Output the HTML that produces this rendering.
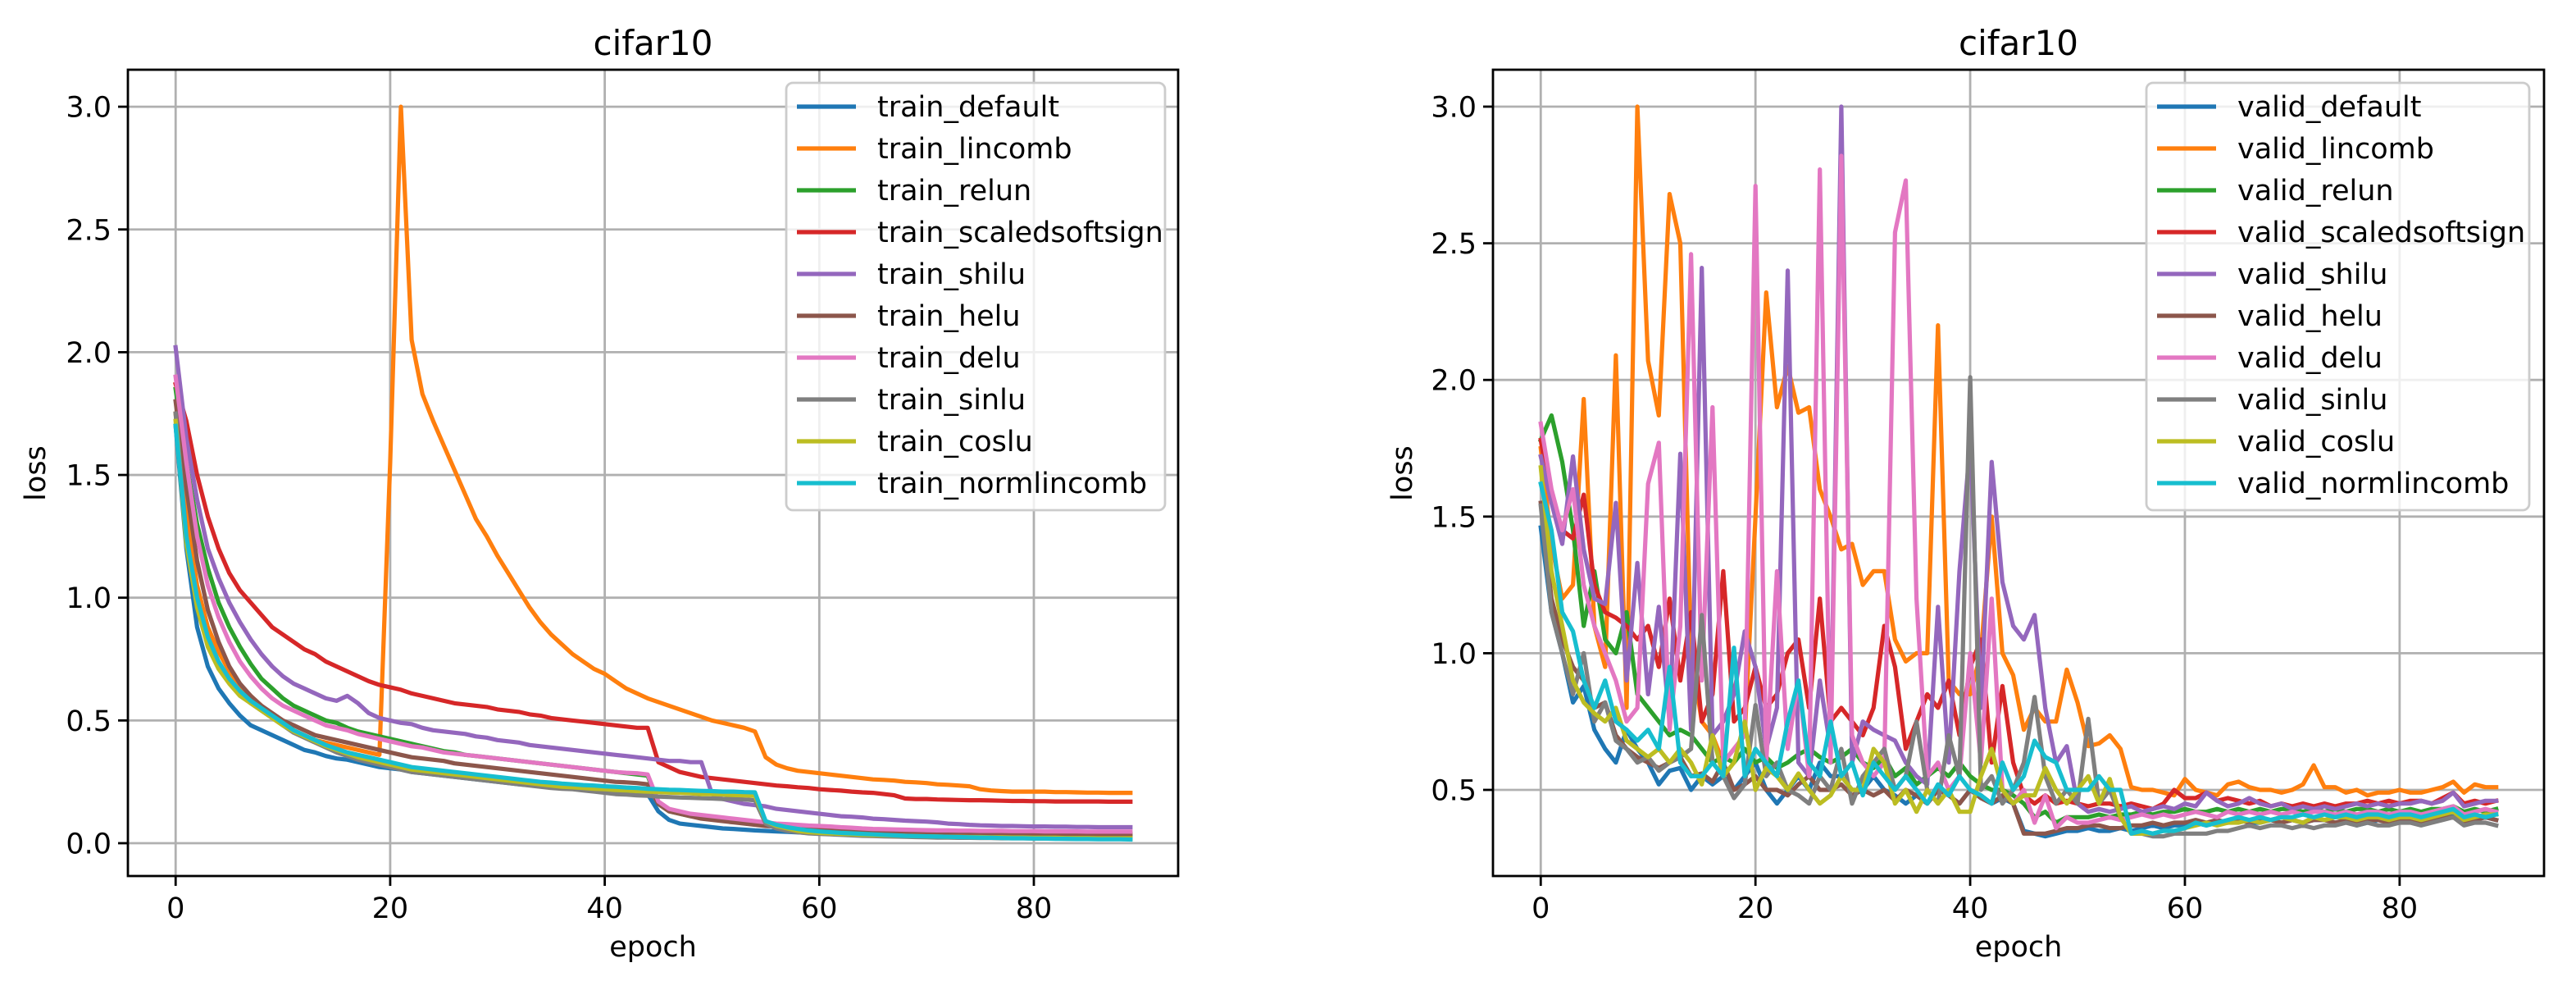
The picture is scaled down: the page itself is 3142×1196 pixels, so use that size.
<!DOCTYPE html>
<html><head><meta charset="utf-8"><style>
html,body{margin:0;padding:0;background:#fff;}
svg{display:block;font-family:"DejaVu Sans","Liberation Sans",sans-serif;}
</style></head>
<body>
<svg id="fig" width="3142" height="1196" viewBox="0 0 3142 1196" xmlns="http://www.w3.org/2000/svg"></svg>
<script>
const epochs = Array.from({length:90},(_, i)=>i);
const xTicks = [0,20,40,60,80];
const yTicksLeft = [0.0,0.5,1.0,1.5,2.0,2.5,3.0];
const yTicksRight = [0.5,1.0,1.5,2.0,2.5,3.0];
const names = ["default","lincomb","relun","scaledsoftsign","shilu","helu","delu","sinlu","coslu","normlincomb"];
const colors = ["#1f77b4","#ff7f0e","#2ca02c","#d62728","#9467bd","#8c564b","#e377c2","#7f7f7f","#bcbd22","#17becf"];

const trDefault=[1.70,1.20,0.88,0.72,0.63,0.57,0.52,0.48,0.46,0.44,0.42,0.40,0.38,0.37,0.355,0.345,0.34,0.33,0.32,0.31,0.305,0.30,0.29,0.285,0.28,0.275,0.27,0.265,0.26,0.255,0.25,0.245,0.24,0.237,0.233,0.23,0.226,0.222,0.218,0.215,0.212,0.208,0.205,0.202,0.20,0.13,0.095,0.08,0.075,0.07,0.065,0.06,0.058,0.055,0.052,0.05,0.048,0.046,0.044,0.042,0.04,0.038,0.037,0.036,0.035,0.034,0.033,0.032,0.031,0.03,0.029,0.028,0.027,0.026,0.026,0.025,0.025,0.024,0.024,0.023,0.023,0.022,0.022,0.022,0.021,0.021,0.021,0.02,0.02,0.02];
const trLincomb=[1.75,1.35,1.05,0.88,0.78,0.70,0.64,0.60,0.56,0.52,0.49,0.46,0.44,0.42,0.41,0.40,0.39,0.38,0.37,0.36,1.55,3.00,2.05,1.83,1.72,1.62,1.52,1.42,1.32,1.25,1.17,1.10,1.03,0.96,0.90,0.85,0.81,0.77,0.74,0.71,0.69,0.66,0.63,0.61,0.59,0.575,0.56,0.545,0.53,0.515,0.50,0.49,0.48,0.47,0.455,0.35,0.32,0.305,0.295,0.29,0.285,0.28,0.275,0.27,0.265,0.26,0.258,0.255,0.25,0.248,0.245,0.24,0.238,0.235,0.232,0.22,0.215,0.212,0.21,0.21,0.21,0.21,0.208,0.208,0.207,0.206,0.206,0.205,0.205,0.205];
const trRelun=[1.85,1.55,1.30,1.12,0.98,0.88,0.80,0.73,0.67,0.63,0.59,0.56,0.54,0.52,0.50,0.49,0.47,0.455,0.445,0.435,0.425,0.415,0.405,0.395,0.385,0.375,0.37,0.36,0.355,0.35,0.345,0.34,0.335,0.33,0.325,0.32,0.315,0.31,0.305,0.30,0.295,0.29,0.285,0.28,0.275,0.16,0.13,0.12,0.11,0.105,0.10,0.095,0.09,0.087,0.084,0.08,0.077,0.074,0.071,0.068,0.065,0.062,0.06,0.058,0.056,0.054,0.052,0.05,0.049,0.048,0.047,0.046,0.045,0.044,0.043,0.042,0.042,0.041,0.041,0.04,0.04,0.04,0.039,0.039,0.039,0.038,0.038,0.038,0.038,0.038];
const trScaled=[1.87,1.72,1.50,1.33,1.20,1.10,1.03,0.98,0.93,0.88,0.85,0.82,0.79,0.77,0.74,0.72,0.70,0.68,0.66,0.645,0.635,0.625,0.61,0.60,0.59,0.58,0.57,0.565,0.56,0.555,0.545,0.54,0.535,0.525,0.52,0.51,0.505,0.50,0.495,0.49,0.485,0.48,0.475,0.47,0.47,0.33,0.31,0.29,0.28,0.27,0.265,0.26,0.255,0.25,0.245,0.24,0.235,0.232,0.228,0.225,0.22,0.217,0.214,0.21,0.207,0.205,0.2,0.195,0.182,0.18,0.18,0.178,0.177,0.176,0.175,0.175,0.174,0.173,0.172,0.172,0.171,0.171,0.17,0.17,0.17,0.17,0.17,0.169,0.169,0.169];
const trShilu=[2.02,1.65,1.40,1.20,1.08,0.98,0.90,0.83,0.77,0.72,0.68,0.65,0.63,0.61,0.59,0.58,0.60,0.57,0.53,0.51,0.50,0.49,0.485,0.47,0.46,0.455,0.45,0.445,0.435,0.43,0.42,0.415,0.41,0.40,0.395,0.39,0.385,0.38,0.375,0.37,0.365,0.36,0.355,0.35,0.345,0.34,0.335,0.335,0.33,0.33,0.20,0.18,0.17,0.16,0.155,0.15,0.14,0.135,0.13,0.125,0.12,0.115,0.11,0.108,0.105,0.10,0.098,0.095,0.092,0.09,0.088,0.085,0.08,0.078,0.075,0.073,0.072,0.07,0.07,0.069,0.068,0.068,0.067,0.067,0.066,0.066,0.065,0.065,0.065,0.065];
const trHelu=[1.80,1.45,1.15,0.95,0.82,0.72,0.65,0.60,0.56,0.53,0.50,0.48,0.46,0.44,0.43,0.42,0.41,0.40,0.39,0.38,0.37,0.36,0.35,0.345,0.34,0.335,0.325,0.32,0.315,0.31,0.305,0.30,0.295,0.29,0.285,0.28,0.275,0.27,0.265,0.26,0.255,0.25,0.248,0.245,0.24,0.16,0.13,0.12,0.11,0.10,0.095,0.09,0.085,0.08,0.075,0.07,0.068,0.065,0.062,0.06,0.058,0.056,0.054,0.052,0.05,0.049,0.048,0.047,0.046,0.045,0.044,0.043,0.042,0.041,0.04,0.04,0.039,0.039,0.038,0.038,0.037,0.037,0.036,0.036,0.036,0.035,0.035,0.035,0.035,0.035];
const trDelu=[1.90,1.55,1.25,1.05,0.92,0.82,0.74,0.68,0.63,0.59,0.56,0.54,0.52,0.50,0.48,0.47,0.46,0.445,0.435,0.425,0.415,0.405,0.395,0.39,0.38,0.37,0.365,0.36,0.355,0.35,0.345,0.34,0.335,0.33,0.325,0.32,0.315,0.31,0.305,0.30,0.295,0.29,0.287,0.285,0.28,0.17,0.14,0.13,0.12,0.115,0.11,0.105,0.10,0.095,0.09,0.085,0.08,0.078,0.075,0.072,0.07,0.068,0.065,0.063,0.06,0.058,0.057,0.056,0.055,0.054,0.053,0.052,0.052,0.051,0.051,0.05,0.05,0.05,0.049,0.049,0.049,0.048,0.048,0.048,0.048,0.047,0.047,0.047,0.047,0.047];
const trSinlu=[1.75,1.25,0.98,0.82,0.72,0.66,0.61,0.57,0.54,0.51,0.48,0.45,0.43,0.41,0.39,0.37,0.355,0.34,0.33,0.32,0.31,0.30,0.29,0.285,0.28,0.275,0.27,0.265,0.26,0.255,0.25,0.245,0.24,0.235,0.23,0.225,0.222,0.22,0.215,0.21,0.205,0.20,0.198,0.195,0.193,0.19,0.188,0.186,0.185,0.183,0.182,0.18,0.18,0.178,0.175,0.08,0.06,0.05,0.045,0.04,0.038,0.036,0.034,0.032,0.03,0.029,0.028,0.027,0.026,0.025,0.024,0.023,0.023,0.022,0.022,0.021,0.021,0.02,0.02,0.02,0.019,0.019,0.019,0.018,0.018,0.018,0.018,0.018,0.017,0.017];
const trCoslu=[1.72,1.22,0.96,0.80,0.71,0.65,0.60,0.57,0.54,0.51,0.48,0.455,0.435,0.415,0.395,0.38,0.365,0.35,0.34,0.33,0.32,0.31,0.30,0.295,0.29,0.285,0.28,0.275,0.27,0.265,0.26,0.255,0.25,0.245,0.24,0.235,0.23,0.228,0.225,0.222,0.22,0.217,0.215,0.212,0.21,0.208,0.206,0.205,0.203,0.20,0.20,0.198,0.196,0.195,0.193,0.09,0.07,0.06,0.05,0.045,0.042,0.04,0.038,0.036,0.034,0.033,0.032,0.031,0.03,0.029,0.028,0.027,0.026,0.026,0.025,0.025,0.024,0.024,0.023,0.023,0.022,0.022,0.022,0.021,0.021,0.021,0.02,0.02,0.02,0.02];
const trNorm=[1.70,1.25,1.00,0.84,0.74,0.67,0.62,0.58,0.55,0.52,0.49,0.46,0.44,0.42,0.40,0.385,0.37,0.36,0.35,0.34,0.33,0.32,0.31,0.305,0.30,0.295,0.29,0.285,0.28,0.275,0.27,0.265,0.26,0.255,0.25,0.247,0.243,0.24,0.237,0.235,0.232,0.23,0.227,0.225,0.222,0.22,0.218,0.217,0.215,0.213,0.212,0.21,0.21,0.208,0.207,0.09,0.075,0.065,0.058,0.052,0.048,0.045,0.042,0.04,0.038,0.036,0.034,0.032,0.03,0.029,0.028,0.027,0.026,0.025,0.024,0.023,0.022,0.021,0.02,0.02,0.019,0.019,0.018,0.018,0.017,0.017,0.016,0.016,0.016,0.015];

const vaDefault=[1.46,1.15,1.00,0.82,0.88,0.72,0.65,0.60,0.72,0.65,0.60,0.52,0.57,0.58,0.50,0.55,0.52,0.55,0.50,0.55,0.60,0.50,0.45,0.50,0.55,0.50,0.60,0.55,0.55,0.50,0.50,0.55,0.50,0.48,0.45,0.48,0.45,0.50,0.48,0.45,0.50,0.48,0.45,0.47,0.45,0.35,0.34,0.33,0.34,0.35,0.35,0.36,0.35,0.35,0.36,0.35,0.36,0.37,0.36,0.37,0.37,0.38,0.37,0.38,0.38,0.39,0.38,0.38,0.39,0.38,0.39,0.38,0.39,0.39,0.38,0.39,0.37,0.38,0.39,0.38,0.39,0.39,0.38,0.39,0.40,0.41,0.38,0.39,0.40,0.39];
const vaLincomb=[1.75,1.40,1.20,1.25,1.93,1.10,0.95,2.09,0.80,3.00,2.07,1.87,2.68,2.50,1.00,0.75,0.70,0.60,0.65,0.70,1.50,2.32,1.90,2.05,1.88,1.90,1.60,1.50,1.38,1.40,1.25,1.30,1.30,1.05,0.97,1.00,1.00,2.20,0.90,0.85,0.85,1.00,1.50,1.00,0.92,0.72,0.80,0.75,0.75,0.94,0.82,0.66,0.67,0.70,0.65,0.51,0.50,0.50,0.49,0.48,0.54,0.50,0.49,0.48,0.52,0.53,0.51,0.50,0.50,0.49,0.50,0.52,0.59,0.51,0.51,0.49,0.50,0.48,0.49,0.49,0.50,0.49,0.49,0.50,0.51,0.53,0.49,0.52,0.51,0.51];
const vaRelun=[1.78,1.87,1.70,1.45,1.10,1.30,1.05,1.00,1.15,0.85,0.80,0.75,0.70,0.72,0.70,0.65,0.60,0.62,0.60,0.65,0.60,0.62,0.58,0.60,0.63,0.65,0.62,0.60,0.62,0.65,0.60,0.58,0.62,0.55,0.58,0.52,0.55,0.58,0.55,0.60,0.55,0.52,0.50,0.50,0.48,0.45,0.40,0.42,0.38,0.40,0.40,0.40,0.41,0.40,0.41,0.41,0.42,0.41,0.42,0.42,0.43,0.42,0.42,0.43,0.42,0.43,0.42,0.43,0.42,0.43,0.43,0.42,0.43,0.42,0.43,0.42,0.43,0.43,0.42,0.43,0.42,0.43,0.42,0.43,0.43,0.44,0.42,0.43,0.42,0.43];
const vaScaled=[1.78,1.55,1.45,1.42,1.58,1.25,1.15,1.13,1.10,1.05,1.10,0.95,1.20,0.90,1.15,0.75,0.85,1.30,0.75,0.80,0.95,0.80,0.85,1.00,1.05,0.80,1.20,0.75,0.80,0.75,0.70,0.80,1.10,0.95,0.65,0.75,0.85,0.80,0.90,0.70,0.95,1.05,0.60,0.88,0.60,0.48,0.45,0.48,0.45,0.46,0.45,0.44,0.45,0.45,0.44,0.45,0.44,0.43,0.45,0.50,0.47,0.47,0.49,0.46,0.47,0.46,0.45,0.46,0.44,0.45,0.44,0.45,0.44,0.45,0.44,0.45,0.45,0.46,0.45,0.46,0.45,0.46,0.46,0.45,0.47,0.49,0.45,0.46,0.45,0.46];
const vaShilu=[1.72,1.55,1.40,1.72,1.38,1.20,1.18,1.55,0.90,1.33,0.85,1.17,0.75,1.73,0.72,2.41,0.70,0.75,0.85,1.08,0.95,0.65,0.80,2.40,0.60,0.55,0.90,0.65,3.00,0.60,0.75,0.72,0.70,0.68,0.60,0.55,0.52,1.17,0.60,1.30,1.77,0.80,1.70,1.26,1.10,1.05,1.14,0.80,0.60,0.66,0.45,0.42,0.43,0.42,0.43,0.44,0.42,0.43,0.44,0.43,0.45,0.44,0.49,0.46,0.44,0.45,0.47,0.45,0.44,0.45,0.43,0.44,0.43,0.44,0.43,0.44,0.45,0.44,0.45,0.44,0.45,0.45,0.46,0.45,0.46,0.49,0.44,0.45,0.46,0.46];
const vaHelu=[1.55,1.20,1.05,0.95,0.90,0.80,0.82,0.70,0.65,0.62,0.60,0.58,0.60,0.62,0.55,0.56,0.53,0.60,0.50,0.52,0.55,0.50,0.50,0.48,0.52,0.55,0.50,0.50,0.52,0.48,0.50,0.48,0.50,0.46,0.50,0.48,0.45,0.50,0.48,0.45,0.50,0.47,0.45,0.48,0.45,0.34,0.34,0.34,0.35,0.36,0.36,0.37,0.37,0.36,0.36,0.37,0.37,0.38,0.37,0.38,0.38,0.39,0.38,0.39,0.38,0.39,0.38,0.39,0.39,0.38,0.39,0.38,0.39,0.39,0.38,0.39,0.38,0.39,0.39,0.38,0.39,0.39,0.38,0.39,0.40,0.40,0.38,0.39,0.40,0.39];
const vaDelu=[1.84,1.60,1.45,1.60,1.25,1.10,1.00,0.90,0.75,0.80,1.62,1.77,0.72,1.10,2.46,0.90,1.90,0.60,0.65,0.70,2.71,0.60,1.30,0.65,0.90,0.55,2.77,0.60,2.82,0.70,0.60,0.55,0.60,2.54,2.73,1.20,0.55,0.60,0.50,0.55,1.00,0.60,1.20,0.50,0.45,0.50,0.38,0.48,0.36,0.40,0.38,0.38,0.39,0.40,0.39,0.40,0.41,0.40,0.41,0.40,0.41,0.42,0.41,0.40,0.42,0.41,0.42,0.41,0.42,0.41,0.42,0.41,0.42,0.42,0.41,0.42,0.41,0.42,0.42,0.41,0.42,0.42,0.41,0.42,0.43,0.44,0.41,0.42,0.43,0.42];
const vaSinlu=[1.54,1.15,1.00,0.85,1.00,0.75,0.82,0.68,0.65,0.60,0.62,0.57,0.60,0.62,0.65,1.14,0.60,0.55,0.47,0.52,0.81,0.55,0.60,0.50,0.48,0.45,0.55,0.50,0.65,0.45,0.55,0.60,0.65,0.50,0.55,0.75,0.50,0.45,0.70,0.55,2.01,0.50,0.55,0.45,0.50,0.60,0.84,0.55,0.45,0.50,0.45,0.76,0.45,0.50,0.40,0.34,0.34,0.33,0.33,0.34,0.34,0.34,0.34,0.35,0.35,0.36,0.37,0.36,0.37,0.37,0.36,0.37,0.36,0.37,0.37,0.38,0.37,0.38,0.37,0.37,0.38,0.38,0.37,0.38,0.39,0.40,0.37,0.38,0.38,0.37];
const vaCoslu=[1.68,1.30,1.10,0.90,0.82,0.78,0.75,0.80,0.68,0.65,0.62,0.65,0.60,0.65,0.60,0.52,0.70,0.55,0.60,0.75,0.50,0.58,0.55,0.50,0.56,0.50,0.45,0.48,0.55,0.50,0.50,0.65,0.60,0.45,0.50,0.42,0.50,0.45,0.50,0.42,0.42,0.55,0.65,0.50,0.45,0.48,0.48,0.58,0.50,0.45,0.50,0.55,0.45,0.54,0.40,0.34,0.34,0.34,0.35,0.35,0.36,0.37,0.38,0.37,0.38,0.38,0.39,0.38,0.39,0.40,0.39,0.38,0.40,0.39,0.40,0.40,0.39,0.40,0.40,0.39,0.40,0.40,0.39,0.40,0.41,0.42,0.39,0.40,0.41,0.41];
const vaNorm=[1.62,1.45,1.15,1.08,0.90,0.80,0.90,0.75,0.72,0.68,0.72,0.65,0.95,0.60,0.55,0.55,0.60,0.55,1.02,0.55,0.65,0.60,0.55,0.75,0.90,0.60,0.55,0.75,0.55,0.60,0.48,0.60,0.55,0.50,0.55,0.50,0.45,0.52,0.48,0.55,0.50,0.48,0.45,0.60,0.50,0.55,0.68,0.62,0.60,0.50,0.50,0.50,0.55,0.50,0.50,0.34,0.35,0.34,0.35,0.35,0.36,0.38,0.37,0.38,0.39,0.40,0.39,0.40,0.39,0.40,0.40,0.41,0.40,0.41,0.40,0.41,0.40,0.41,0.41,0.40,0.41,0.41,0.40,0.41,0.42,0.43,0.40,0.41,0.40,0.41];

const trainSeries=[trDefault,trLincomb,trRelun,trScaled,trShilu,trHelu,trDelu,trSinlu,trCoslu,trNorm];
const validSeries=[vaDefault,vaLincomb,vaRelun,vaScaled,vaShilu,vaHelu,vaDelu,vaSinlu,vaCoslu,vaNorm];

const NS="http://www.w3.org/2000/svg";
const svg=document.getElementById('fig');
function mk(tag,attrs,parent,text){const e=document.createElementNS(NS,tag);for(const k in attrs)e.setAttribute(k,attrs[k]);if(text!==undefined)e.textContent=text;(parent||svg).appendChild(e);return e;}

function drawPanel(cfg){
  const g=mk('g',{});
  
  
  const L=cfg.left,R=cfg.right,T=85,B=1068;
  const xs=v=>L+(v-(-4.45))*(R-L)/97.9;
  const ys=v=>cfg.y0px-(v-cfg.y0)*cfg.pxPerUnit;
  const grid=mk('g',{stroke:'#b0b0b0','stroke-width':2.8},g);
  
  
  xTicks.forEach(t=>mk('line',{x1:xs(t),x2:xs(t),y1:T,y2:B},grid));
  cfg.yTicks.forEach(t=>mk('line',{x1:L,x2:R,y1:ys(t),y2:ys(t)},grid));
  const clipId='clip-'+cfg.id;
  const cp=mk('clipPath',{id:clipId},g);mk('rect',{x:L,y:T,width:R-L,height:B-T},cp);
  const lines=mk('g',{'clip-path':'url(#'+clipId+')',fill:'none','stroke-width':5.2,'stroke-linejoin':'round','stroke-linecap':'square'},g);
  cfg.series.forEach((arr,i)=>{
    const d=arr.map((v,j)=>(j?'L':'M')+xs(epochs[j]).toFixed(1)+' '+ys(v).toFixed(1)).join(' ');
    const p=mk('path',{d:d,stroke:colors[i]},lines);
    
    
  });
  const frame=mk('rect',{x:L,y:T,width:R-L,height:B-T,fill:'none',stroke:'#000','stroke-width':2.8},g);
  
  
  const ax=mk('g',{'font-size':35,fill:'#000'},g);
  
  
  xTicks.forEach(t=>{mk('line',{x1:xs(t),x2:xs(t),y1:B,y2:B+12,stroke:'#000','stroke-width':2.8},ax);
    mk('text',{x:xs(t),y:1119,'text-anchor':'middle'},ax,String(t));});
  const ay=mk('g',{'font-size':35,fill:'#000'},g);
  
  
  cfg.yTicks.forEach(t=>{mk('line',{x1:L-12,x2:L,y1:ys(t),y2:ys(t),stroke:'#000','stroke-width':2.8},ay);
    mk('text',{x:L-20,y:ys(t)+12.5,'text-anchor':'end'},ay,t.toFixed(1));});
  const xl=mk('text',{x:(L+R)/2,y:1166,'text-anchor':'middle','font-size':35},g,'epoch');
  
  
  const yl=mk('text',{x:cfg.ylabX,y:577,'text-anchor':'middle','font-size':35,transform:'rotate(-90 '+cfg.ylabX+' 577)'},g,'loss');
  
  
  const tt=mk('text',{x:(L+R)/2,y:67,'text-anchor':'middle','font-size':42},g,'cifar10');
  
  
  // legend
  const lg=mk('g',{},g);
  
  
  mk('rect',{x:cfg.legL,y:101,width:cfg.legR-cfg.legL,height:521,rx:8,fill:'#fff','fill-opacity':0.8,stroke:'#cccccc','stroke-width':2.8},lg);
  names.forEach((n,i)=>{
    const e=mk('g',{},lg);
    
    
    const y=130+i*51;
    mk('line',{x1:cfg.legL+13,x2:cfg.legL+85,y1:y,y2:y,stroke:colors[i],'stroke-width':5.2},e);
    mk('text',{x:cfg.legL+111,y:y+12,'font-size':35},e,cfg.prefix+'_'+n);
  });
}
drawPanel({id:'train',prefix:'train',left:156,right:1437,y0:0,y0px:1028,pxPerUnit:299.3,yTicks:yTicksLeft,series:trainSeries,ylabX:55,legL:959,legR:1421});
drawPanel({id:'valid',prefix:'valid',left:1821,right:3103,y0:0.5,y0px:963,pxPerUnit:333.2,yTicks:yTicksRight,series:validSeries,ylabX:1722,legL:2618,legR:3085});
</script>
</body></html>
